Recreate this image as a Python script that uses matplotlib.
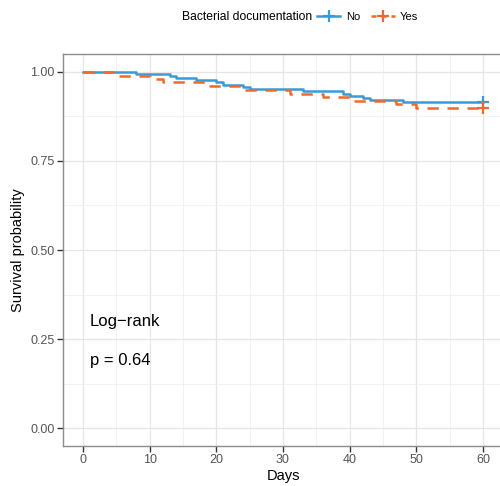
import matplotlib.pyplot as plt
from matplotlib.lines import Line2D

plt.rcParams['font.family'] = ['Liberation Sans', 'DejaVu Sans']

# Kaplan-Meier estimates (day of each step, survival after the step)
no_days = [0, 8, 13, 14, 17, 20, 21, 24, 25, 33, 39, 40, 42, 43, 48, 60]
no_surv = [1.0, 0.994, 0.988, 0.982, 0.976, 0.970, 0.964, 0.958, 0.951,
           0.945, 0.939, 0.932, 0.926, 0.920, 0.915, 0.915]
yes_days = [0, 5, 10, 12, 19, 24, 31, 36, 40, 47, 50, 60]
yes_surv = [1.0, 0.989, 0.979, 0.970, 0.961, 0.949, 0.939, 0.930, 0.918,
            0.909, 0.899, 0.899]

x_ticks = [0, 10, 20, 30, 40, 50, 60]
y_ticks = [0.0, 0.25, 0.5, 0.75, 1.0]
y_labels = ['0.00', '0.25', '0.50', '0.75', '1.00']

legend_title = 'Bacterial documentation'
group_labels = ['No', 'Yes']
pval_lines = ['Log\u2212rank', 'p = 0.64']

blue = '#3A9AD6'
orange = '#EE6A2C'

fig = plt.figure(figsize=(5.0, 4.86), dpi=100)
ax = fig.add_axes([0.126, 0.082, 0.88, 0.807])

ax.step(no_days, no_surv, where='post', color=blue, lw=1.8)
ax.step(yes_days, yes_surv, where='post', color=orange, lw=1.8,
        dashes=(4.5, 3.5))
# censoring marks at end of follow-up
ax.plot(no_days[-1], no_surv[-1], marker='+', ms=8, mew=1.6, color=blue)
ax.plot(yes_days[-1], yes_surv[-1], marker='+', ms=8, mew=1.6, color=orange)

ax.set_xlim(-3, 63)
ax.set_ylim(-0.05, 1.05)
ax.set_xticks(x_ticks)
ax.set_xticks(range(5, 60, 10), minor=True)
ax.set_yticks(y_ticks)
ax.set_yticklabels(y_labels)
ax.set_yticks([0.125, 0.375, 0.625, 0.875], minor=True)
ax.grid(True, which='major', color='#E6E6E6', lw=0.9)
ax.grid(True, which='minor', color='#F0F0F0', lw=0.6)
ax.set_axisbelow(True)
for s in ax.spines.values():
    s.set_color('#8C8C8C')
    s.set_linewidth(1.0)
ax.tick_params(which='major', length=4, width=1.0, color='#333333',
               labelsize=9, labelcolor='#555555', pad=2)
ax.tick_params(which='minor', length=0)

ax.set_xlabel('Days', fontsize=10.5, labelpad=2)
ax.set_ylabel('Survival probability', fontsize=10.5, labelpad=4)

ax.text(1, 0.30, pval_lines[0], fontsize=12, va='center', ha='left')
ax.text(1, 0.19, pval_lines[1], fontsize=12, va='center', ha='left')

fig.text(182 / 500, 1 - 17 / 486, legend_title, fontsize=8.7,
         ha='left', va='center')
handles = [
    Line2D([], [], color=blue, lw=1.8, marker='+', ms=8, mew=1.6),
    Line2D([], [], color=orange, lw=1.8, marker='+', ms=8, mew=1.6,
           dashes=(2, 2)),
]
fig.legend(handles, group_labels, loc='center left',
           bbox_to_anchor=(317 / 500, 1 - 17 / 486), ncol=2, frameon=False,
           fontsize=8, handlelength=2.1, handletextpad=0.5,
           columnspacing=1.0, borderpad=0, borderaxespad=0)

fig.savefig('out.png', dpi=100)
